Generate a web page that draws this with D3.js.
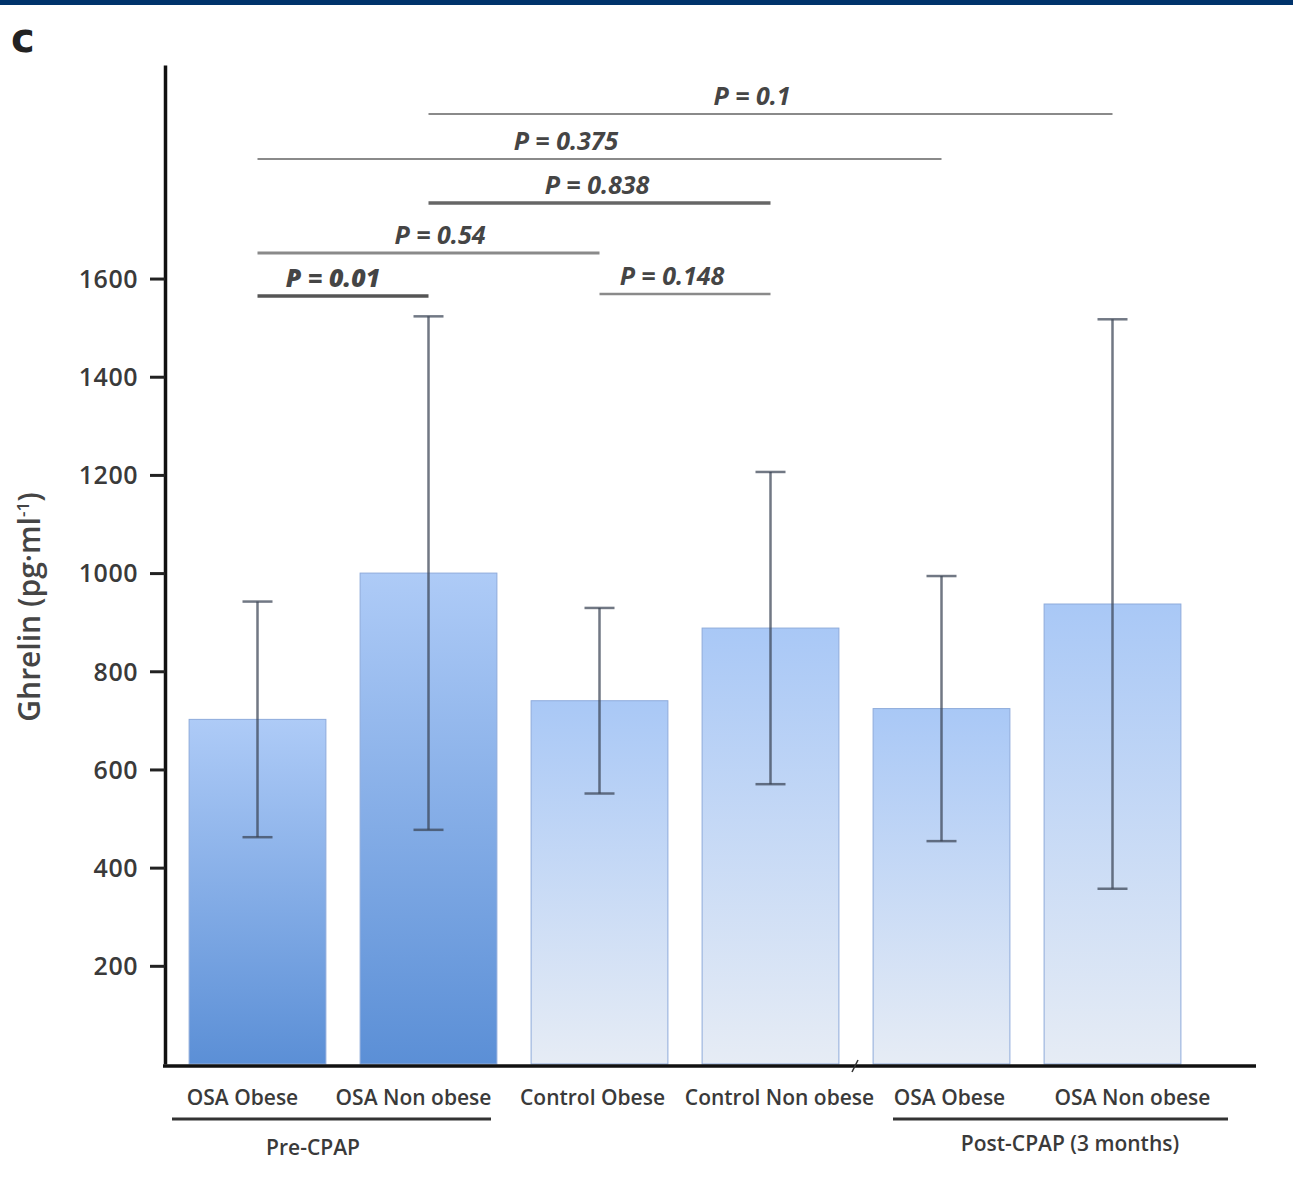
<!DOCTYPE html>
<html>
<head>
<meta charset="utf-8">
<script src="https://cdn.jsdelivr.net/npm/d3@7"></script>
<style>
  html, body { margin: 0; padding: 0; background: #fff; }
  svg { display: block; }
</style>
</head>
<body>
<svg id="chart" width="1293" height="1188"></svg>
<script>
// ---- data ----
const categories = ["OSA Obese", "OSA Non obese", "Control Obese", "Control Non obese", "OSA Obese", "OSA Non obese"];
const groupKeys  = ["pre", "pre", "control", "control", "post", "post"];
const meanValues = [702, 1000, 740, 888, 724, 937];
const sdValues   = [240, 523, 189, 318, 270, 580];
const yTicks     = [200, 400, 600, 800, 1000, 1200, 1400, 1600];
const comparisons = [
  { from: 1, to: 5, label: "P = 0.1" },
  { from: 0, to: 4, label: "P = 0.375" },
  { from: 1, to: 3, label: "P = 0.838" },
  { from: 0, to: 2, label: "P = 0.54" },
  { from: 0, to: 1, label: "P = 0.01" },
  { from: 2, to: 3, label: "P = 0.148" }
];
const groupLabels = [
  { label: "Pre-CPAP", first: 0, last: 1 },
  { label: "Post-CPAP (3 months)", first: 4, last: 5 }
];

// ---- layout / styles ----
const svg = d3.select("#chart");
const font = "'Open Sans', 'DejaVu Sans', sans-serif";

const x = d3.scaleBand().domain(d3.range(categories.length))
  .range([172, 1198]).paddingInner(0.2).paddingOuter(0.1);
const y = d3.scaleLinear().domain([0, 2035]).range([1064, 65]);

// top navy band
svg.append("rect").attr("x", 0).attr("y", 0).attr("width", 1293).attr("height", 5).attr("fill", "#00336b");

// panel letter
svg.append("text").attr("x", 11).attr("y", 52).text("c")
  .attr("font-family", "'DejaVu Sans', sans-serif").attr("font-weight", "bold")
  .attr("font-size", 40).attr("fill", "#222");

// gradients
const defs = svg.append("defs");
const gradDefs = {
  pre:     ["#aecbf7", "#5b8fd6"],
  control: ["#a9c8f6", "#e6ecf5"],
  post:    ["#a9c8f6", "#e6ecf5"]
};
Object.entries(gradDefs).forEach(([k, c]) => {
  const g = defs.append("linearGradient").attr("id", "g-" + k)
    .attr("x1", 0).attr("y1", 0).attr("x2", 0).attr("y2", 1);
  g.append("stop").attr("offset", "0%").attr("stop-color", c[0]);
  g.append("stop").attr("offset", "100%").attr("stop-color", c[1]);
});

// bars
svg.append("g").selectAll("rect").data(meanValues).join("rect")
  .attr("x", (d, i) => x(i))
  .attr("y", d => y(d))
  .attr("width", x.bandwidth())
  .attr("height", d => y(0) - y(d))
  .attr("fill", (d, i) => `url(#g-${groupKeys[i]})`)
  .attr("stroke", "#8eabdb").attr("stroke-width", 1);

// error bars
const eb = svg.append("g").attr("stroke", "#3a4454").attr("stroke-opacity", 0.72).attr("stroke-width", 2.5);
meanValues.forEach((m, i) => {
  const cx = x(i) + x.bandwidth() / 2;
  const hi = m + sdValues[i], lo = m - sdValues[i];
  eb.append("line").attr("x1", cx).attr("x2", cx).attr("y1", y(hi)).attr("y2", y(lo));
  eb.append("line").attr("x1", cx - 15).attr("x2", cx + 15).attr("y1", y(hi)).attr("y2", y(hi));
  eb.append("line").attr("x1", cx - 15).attr("x2", cx + 15).attr("y1", y(lo)).attr("y2", y(lo));
});

// y axis
const yAxis = svg.append("g").attr("transform", "translate(165,0)")
  .call(d3.axisLeft(y).tickValues(yTicks).tickFormat(d3.format("d")).tickSize(15).tickPadding(12).tickSizeOuter(0));
yAxis.select(".domain").attr("stroke", "#111").attr("stroke-width", 3.5);
yAxis.selectAll(".tick line").attr("stroke", "#222").attr("stroke-width", 3);
yAxis.selectAll(".tick text").attr("font-family", font).attr("font-size", 25).attr("font-weight", 600)
  .attr("fill", "#3a3a3a").attr("letter-spacing", 0.5).attr("dy", "0.35em");

// x axis line
svg.append("line").attr("x1", 163).attr("x2", 1256).attr("y1", y(0) + 2).attr("y2", y(0) + 2)
  .attr("stroke", "#111").attr("stroke-width", 3.5);
// axis break mark
svg.append("path").attr("d", `M852,${y(0) + 8} L858,${y(0) - 4}`).attr("stroke", "#333").attr("stroke-width", 1.5).attr("fill", "none");

// category labels
const labelOffsets = [-15, -15, -7, 9, 8, 20];
svg.append("g").selectAll("text").data(categories).join("text")
  .attr("x", (d, i) => x(i) + x.bandwidth() / 2 + labelOffsets[i])
  .attr("y", 1105)
  .attr("text-anchor", "middle")
  .attr("font-family", font).attr("font-size", 21).attr("font-weight", 600).attr("fill", "#3a3a3a")
  .text(d => d);

// group lines & labels
const groupLineExt = [[172, 491], [893, 1228]];
groupLabels.forEach((gdef, k) => {
  const [gx1, gx2] = groupLineExt[k];
  svg.append("line").attr("x1", gx1).attr("x2", gx2).attr("y1", 1119).attr("y2", 1119)
    .attr("stroke", "#333").attr("stroke-width", 3);
  const cx = k === 0 ? 313 : 1070;
  svg.append("text").attr("x", cx).attr("y", k === 0 ? 1155 : 1151).attr("text-anchor", "middle")
    .attr("font-family", font).attr("font-size", 21).attr("font-weight", 600).attr("fill", "#3a3a3a").text(gdef.label);
});

// comparison lines
const compY = [114, 159, 203, 253, 296, 294];
const compStyle = [
  { c: "#8a8a8a", w: 2 }, { c: "#8a8a8a", w: 2 }, { c: "#666", w: 3.5 },
  { c: "#8a8a8a", w: 3 }, { c: "#555", w: 3.5 }, { c: "#8a8a8a", w: 2.5 }
];
comparisons.forEach((c, i) => {
  const x1 = x(c.from) + x.bandwidth() / 2, x2 = x(c.to) + x.bandwidth() / 2;
  svg.append("line").attr("x1", x1).attr("x2", x2).attr("y1", compY[i]).attr("y2", compY[i])
    .attr("stroke", compStyle[i].c).attr("stroke-width", compStyle[i].w);
});
const compTextX = [752, 566, 597, 440, 333, 672];
comparisons.forEach((c, i) => {
  svg.append("text").attr("x", compTextX[i]).attr("y", compY[i] - 9)
    .attr("text-anchor", "middle")
    .attr("font-family", font).attr("font-style", "italic").attr("font-weight", i === 4 ? 800 : 700)
    .attr("font-size", 25).attr("fill", "#454545")
    .text(c.label);
});

// y axis title
svg.append("text")
  .attr("transform", "translate(40,607) rotate(-90)")
  .attr("text-anchor", "middle")
  .attr("font-family", font).attr("font-size", 30).attr("font-weight", 600).attr("fill", "#454545")
  .html("Ghrelin (pg·ml<tspan baseline-shift='super' font-size='17'>-1</tspan>)");
</script>
</body>
</html>
